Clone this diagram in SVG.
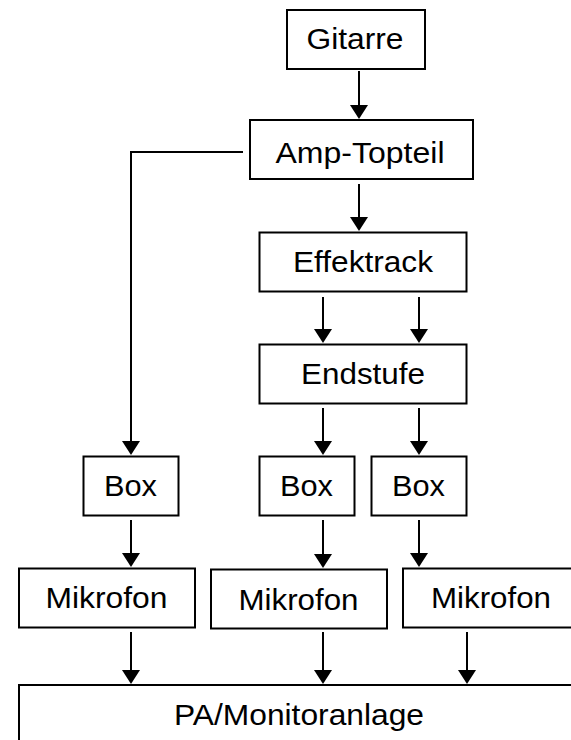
<svg xmlns="http://www.w3.org/2000/svg" width="571" height="740" viewBox="0 0 571 740">
  <style>
    .node rect { fill: #ffffff; stroke: #000000; stroke-width: 2; }
    .node text { font-family: "Liberation Sans", Arial, sans-serif; font-size: 30px; fill: #000000; text-anchor: middle; }
    .edge { fill: none; stroke: #000000; stroke-width: 2; }
  </style>
  <defs>
    <marker id="arrow" viewBox="0 0 14 18" refX="4" refY="9" markerWidth="14" markerHeight="18" markerUnits="userSpaceOnUse" orient="auto">
      <path d="M0,0 L14,9 L0,18 z" fill="#000000"/>
    </marker>
  </defs>
  <rect width="571" height="740" fill="#ffffff"/>

  <!-- signal paths -->
  <g id="connectors">
    <path class="edge" marker-end="url(#arrow)" d="M359,71 V109"/>
    <path class="edge" marker-end="url(#arrow)" d="M359,184 V221"/>
    <path class="edge" marker-end="url(#arrow)" d="M243,152 H131 V445"/>
    <path class="edge" marker-end="url(#arrow)" d="M323,297 V333"/>
    <path class="edge" marker-end="url(#arrow)" d="M419,297 V333"/>
    <path class="edge" marker-end="url(#arrow)" d="M323,408 V445"/>
    <path class="edge" marker-end="url(#arrow)" d="M419,408 V445"/>
    <path class="edge" marker-end="url(#arrow)" d="M131,520 V557"/>
    <path class="edge" marker-end="url(#arrow)" d="M323,520 V558"/>
    <path class="edge" marker-end="url(#arrow)" d="M419,520 V557"/>
    <path class="edge" marker-end="url(#arrow)" d="M131,632 V674"/>
    <path class="edge" marker-end="url(#arrow)" d="M323,632 V674"/>
    <path class="edge" marker-end="url(#arrow)" d="M467,632 V674"/>
  </g>

  <g id="gitarre" class="node">
    <rect x="287" y="10" width="138" height="59"/>
    <text x="355" y="49" textLength="97" lengthAdjust="spacingAndGlyphs">Gitarre</text>
  </g>
  <g id="amp-topteil" class="node">
    <rect x="250" y="120" width="223" height="59"/>
    <text x="360" y="163" textLength="169" lengthAdjust="spacingAndGlyphs">Amp-Topteil</text>
  </g>
  <g id="effektrack" class="node">
    <rect x="259.5" y="232.5" width="207" height="59"/>
    <text x="363" y="272" textLength="140" lengthAdjust="spacingAndGlyphs">Effektrack</text>
  </g>
  <g id="endstufe" class="node">
    <rect x="259.5" y="344.5" width="207" height="59"/>
    <text x="363" y="384" textLength="124" lengthAdjust="spacingAndGlyphs">Endstufe</text>
  </g>
  <g id="box-1" class="node">
    <rect x="83.5" y="456.5" width="95" height="59"/>
    <text x="130.5" y="496" textLength="53" lengthAdjust="spacingAndGlyphs">Box</text>
  </g>
  <g id="box-2" class="node">
    <rect x="259.5" y="456.5" width="95" height="59"/>
    <text x="306.5" y="496" textLength="53" lengthAdjust="spacingAndGlyphs">Box</text>
  </g>
  <g id="box-3" class="node">
    <rect x="371.5" y="456.5" width="95" height="59"/>
    <text x="418.5" y="496" textLength="53" lengthAdjust="spacingAndGlyphs">Box</text>
  </g>
  <g id="mikrofon-1" class="node">
    <rect x="19" y="568.5" width="176" height="59"/>
    <text x="106.5" y="608" textLength="122" lengthAdjust="spacingAndGlyphs">Mikrofon</text>
  </g>
  <g id="mikrofon-2" class="node">
    <rect x="211" y="569.5" width="176" height="59"/>
    <text x="298.5" y="610" textLength="120" lengthAdjust="spacingAndGlyphs">Mikrofon</text>
  </g>
  <g id="mikrofon-3" class="node">
    <rect x="403" y="568.5" width="180" height="59"/>
    <text x="491" y="608" textLength="120" lengthAdjust="spacingAndGlyphs">Mikrofon</text>
  </g>
  <g id="pa-monitoranlage" class="node">
    <rect x="19" y="685" width="565" height="80"/>
    <text x="299" y="725" textLength="250" lengthAdjust="spacingAndGlyphs">PA/Monitoranlage</text>
  </g>
</svg>
